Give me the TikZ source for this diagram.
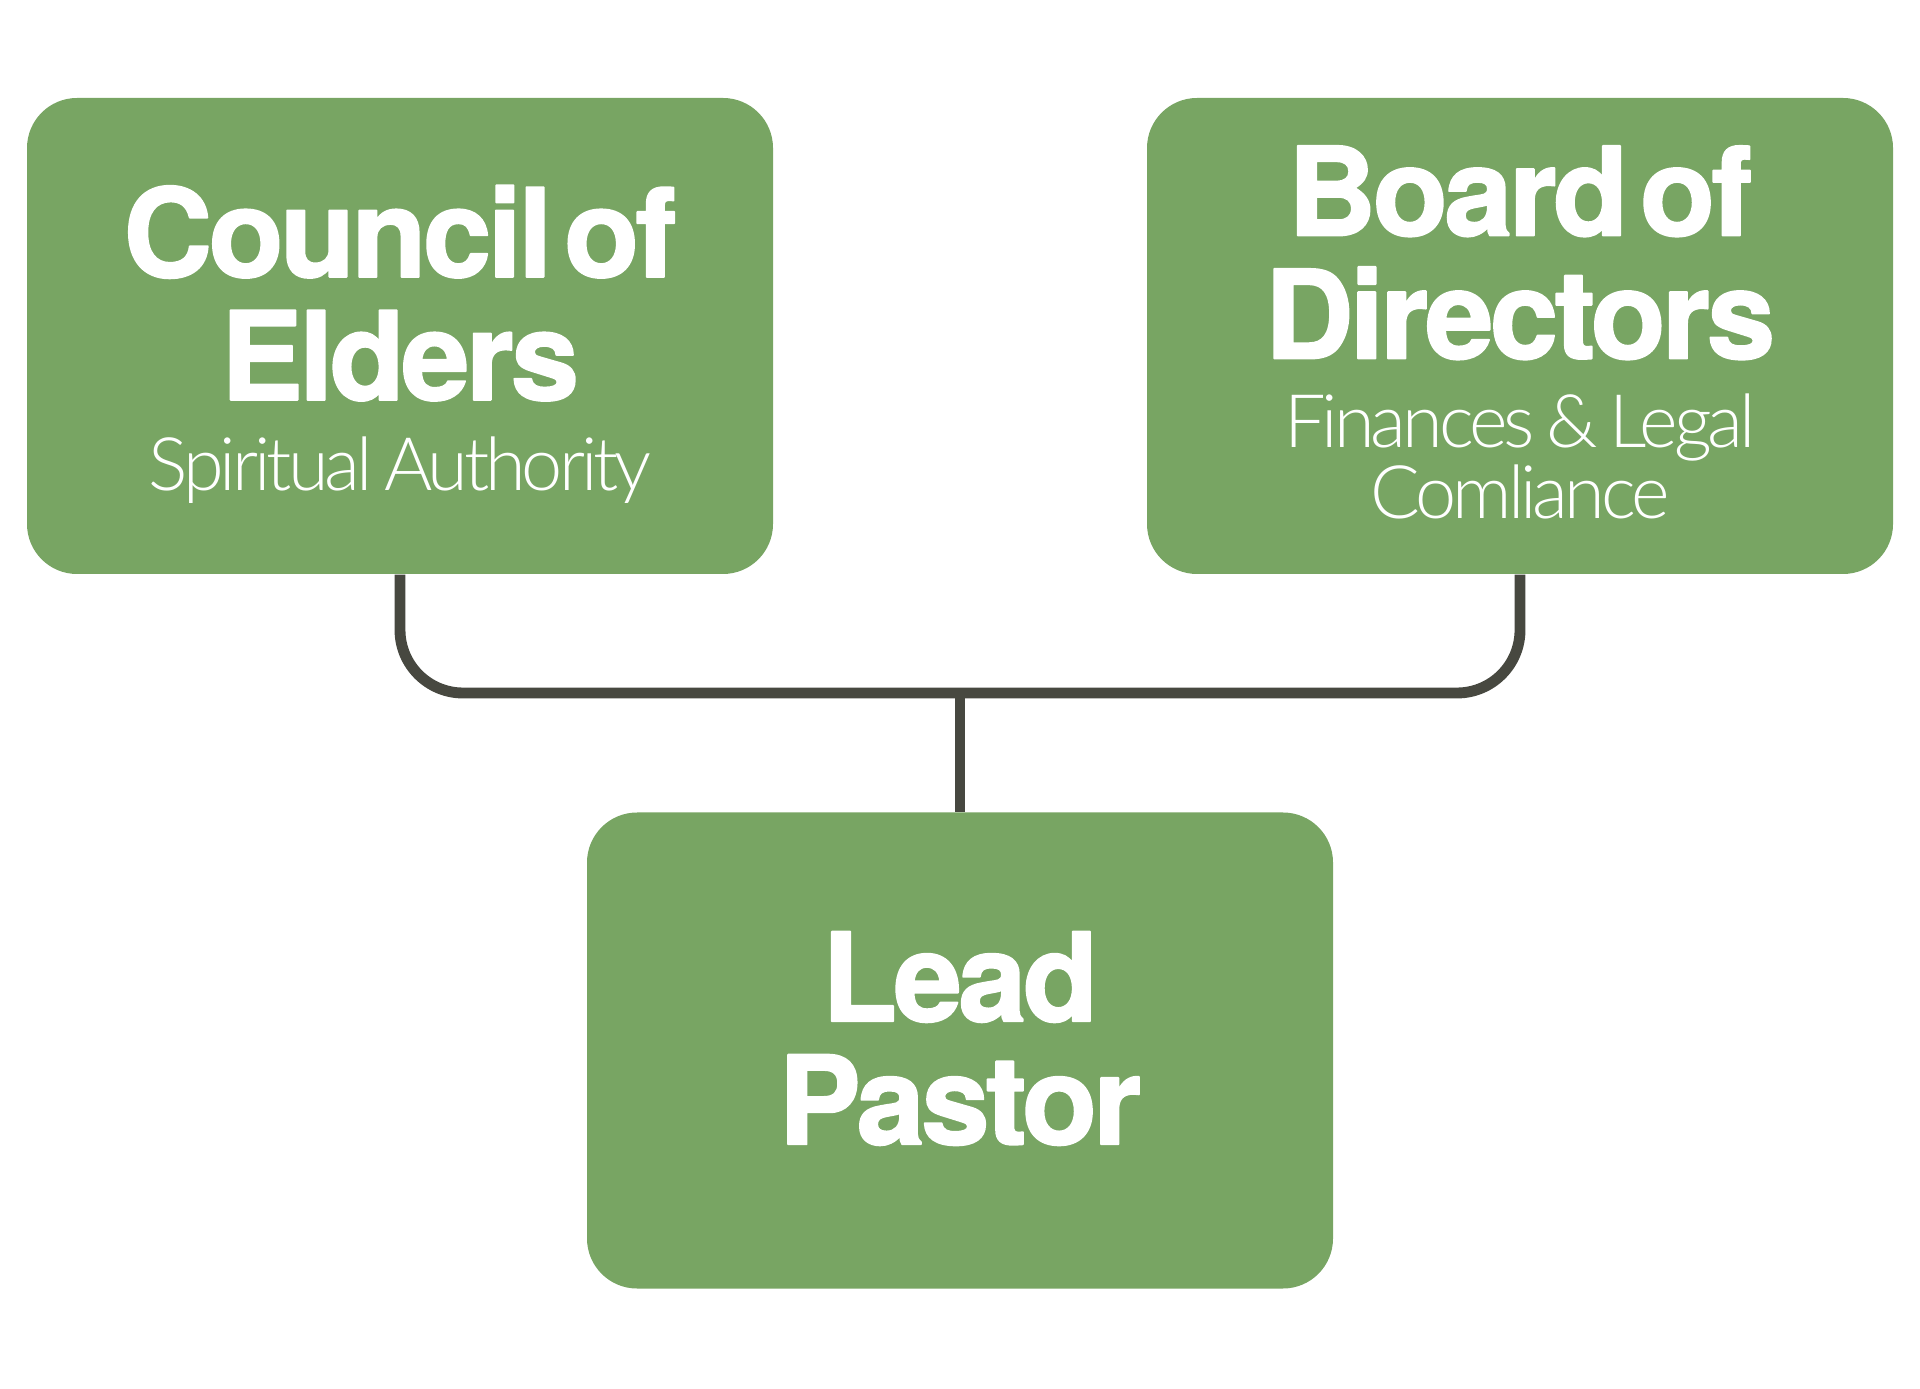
\documentclass[tikz,border=0pt]{standalone}
\usepackage{fontspec}
\setmainfont{TeX Gyre Heros}
\newfontfamily\headfont[LetterSpace=-3,BoldFeatures={FakeBold=1.5}]{TeX Gyre Heros}
\IfFontExistsTF{Lato Light}
  {\newfontfamily\notefont[LetterSpace=-5.5]{Lato Light}}
  {\newfontfamily\notefont[LetterSpace=-6.5]{TeX Gyre Heros}}
\newcommand\headtext{\headfont\bfseries\fontsize{35}{35}\selectfont}
\newcommand\notetext{\notefont\mdseries\fontsize{21}{20.2}\selectfont}
\definecolor{boxgreen}{HTML}{78A563}
\definecolor{linkgray}{HTML}{474840}
\begin{document}
\begin{tikzpicture}[line cap=butt,line join=round,
  unit/.style={fill=boxgreen,rounded corners=5mm,minimum width=74.6mm,
    minimum height=47.6mm,inner sep=0pt},
  caption/.style={text width=70mm,align=center,text=white,inner sep=0pt},
  link/.style={draw=linkgray,line width=3.1pt}]
  \useasboundingbox (0,0) rectangle (19.20,13.88);
  \node[unit] (elders) at (4.00,10.52) {};
  \node[unit] (directors) at (15.20,10.52) {};
  \node[unit] (pastor) at (9.60,3.375) {};
  \node[caption] (elders text) at ([yshift=-0.86mm]elders.center)
    {\headtext Council of\\\headtext Elders\\[5.7pt]\notetext Spiritual Authority\par};
  \node[caption] (directors text) at ([yshift=0.37mm]directors.center)
    {\headtext Board of\\\headtext Directors\\[5pt]\notetext Finances \& Legal\\\notetext Comliance\par};
  \node[caption] (pastor text) at ([yshift=1.2mm]pastor.center)
    {\headtext Lead\\\headtext Pastor\par};
  \coordinate (hub) at (9.60,6.95);
  \draw[link,rounded corners=6.3mm] (elders.south) |- (hub) -| (directors.south);
  \draw[link] (hub) -- (pastor.north);
\end{tikzpicture}
\end{document}
